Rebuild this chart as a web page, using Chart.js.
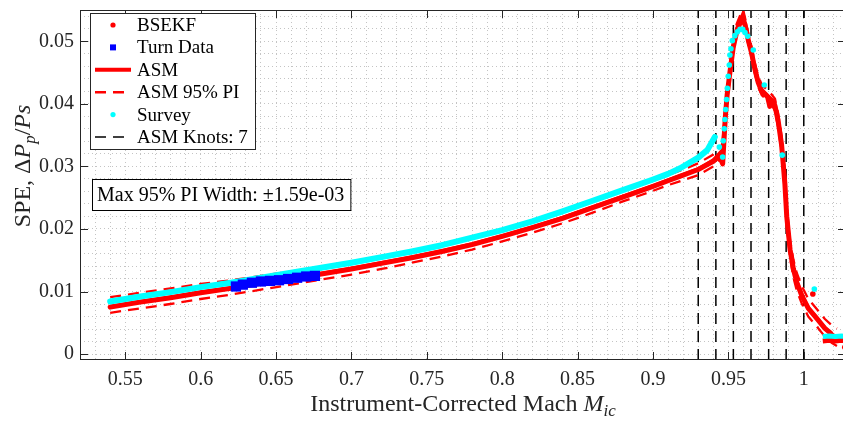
<!DOCTYPE html>
<html>
<head>
<meta charset="utf-8">
<script src="https://cdn.jsdelivr.net/npm/chart.js@4.4.1/dist/chart.umd.min.js"></script>
<style>
  html, body { margin: 0; padding: 0; background: #fff; overflow: hidden; }
  #wrap { position: absolute; left: 0; top: 0; width: 860px; height: 421px; }
</style>
</head>
<body>
<div id="wrap"><canvas id="chart" width="860" height="421"></canvas></div>
<script>
// ---- data ----
var xTickVals = [0.55, 0.6, 0.65, 0.7, 0.75, 0.8, 0.85, 0.9, 0.95, 1];
var xTickText = ['0.55', '0.6', '0.65', '0.7', '0.75', '0.8', '0.85', '0.9', '0.95', '1'];
var yTickVals = [0, 0.01, 0.02, 0.03, 0.04, 0.05];
var yTickText = ['0', '0.01', '0.02', '0.03', '0.04', '0.05'];

var legendLabels = ['BSEKF', 'Turn Data', 'ASM', 'ASM 95% PI', 'Survey', 'ASM Knots: 7'];
var piNote = 'Max 95% PI Width: \u00b11.59e-03';

var knots = [0.93, 0.9417, 0.9533, 0.965, 0.9767, 0.9883, 1.0];

var machAsm = [0.54, 0.56, 0.58, 0.60, 0.62, 0.64, 0.66, 0.68, 0.70, 0.72, 0.74, 0.76, 0.78, 0.80, 0.82, 0.84, 0.86, 0.88, 0.90, 0.91,
  0.92, 0.93, 0.94, 0.946, 0.9477, 0.9488, 0.951, 0.9532, 0.9555, 0.9577, 0.9597, 0.961, 0.9632, 0.9654, 0.9676, 0.9698, 0.9721, 0.9754, 0.9787, 0.9809,
  0.9831, 0.9853, 0.9864, 0.9875, 0.9887, 0.9909, 0.9931, 0.9953, 0.9986, 1.003, 1.0086, 1.014, 1.0185, 1.022];
var speAsm = [0.0076, 0.0084, 0.0091, 0.0099, 0.0106, 0.0114, 0.0122, 0.0129, 0.0137, 0.0146, 0.0155, 0.0165, 0.0176, 0.0189, 0.0203, 0.0218, 0.0235, 0.0252, 0.0269, 0.0278,
  0.0287, 0.0296, 0.0310, 0.0326, 0.0373, 0.0404, 0.0451, 0.0493, 0.0520, 0.0533, 0.0544, 0.0530, 0.0504, 0.0483, 0.0457, 0.0436, 0.0423, 0.0415, 0.0407, 0.0399,
  0.0373, 0.0336, 0.0305, 0.0273, 0.0221, 0.0168, 0.0137, 0.0116, 0.0095, 0.0074, 0.0058, 0.0042, 0.0032, 0.0027];
var speAsmHi = [0.0091, 0.0098, 0.0105, 0.0112, 0.0118, 0.0125, 0.0132, 0.0139, 0.0147, 0.0155, 0.0164, 0.0174, 0.0185, 0.0198, 0.0212, 0.0227, 0.0244, 0.0261, 0.0277, 0.0286,
  0.0295, 0.0305, 0.0319, 0.0335, 0.0381, 0.0412, 0.0459, 0.0501, 0.0528, 0.0541, 0.0551, 0.0538, 0.0512, 0.0491, 0.0465, 0.0444, 0.0431, 0.0423, 0.0415, 0.0408,
  0.0384, 0.0348, 0.0318, 0.0287, 0.0235, 0.0182, 0.0151, 0.0130, 0.0109, 0.0088, 0.0072, 0.0056, 0.0046, 0.0041];
var speAsmLo = [0.0066, 0.0073, 0.0080, 0.0088, 0.0095, 0.0103, 0.0111, 0.0119, 0.0127, 0.0136, 0.0146, 0.0156, 0.0167, 0.0180, 0.0194, 0.0209, 0.0226, 0.0244, 0.0261, 0.0270,
  0.0278, 0.0286, 0.0300, 0.0316, 0.0364, 0.0395, 0.0442, 0.0484, 0.0511, 0.0524, 0.0535, 0.0521, 0.0495, 0.0474, 0.0448, 0.0427, 0.0414, 0.0406, 0.0398, 0.0389,
  0.0361, 0.0323, 0.0291, 0.0258, 0.0206, 0.0154, 0.0123, 0.0102, 0.0081, 0.0060, 0.0044, 0.0028, 0.0018, 0.0013];

var machBsekf = [0.54, 0.56, 0.58, 0.60, 0.62, 0.64, 0.66, 0.68, 0.70, 0.72, 0.74, 0.76, 0.78, 0.80, 0.82, 0.84, 0.86, 0.88, 0.90, 0.91,
  0.92, 0.93, 0.94, 0.944, 0.9462, 0.9470, 0.9480, 0.9492, 0.951, 0.9532, 0.9555, 0.9577, 0.9595, 0.9610, 0.9632, 0.9654, 0.9676, 0.9698, 0.9721, 0.9740,
  0.9760, 0.9775, 0.9790, 0.9809, 0.9831, 0.9853, 0.9864, 0.9875, 0.9887, 0.9909, 0.9931, 0.9953, 0.9986, 1.003, 1.0086, 1.014, 1.018];
var speBsekf = [0.0075, 0.0083, 0.0090, 0.0098, 0.0105, 0.0113, 0.0121, 0.0128, 0.0136, 0.0145, 0.0154, 0.0164, 0.0175, 0.0188, 0.0202, 0.0217, 0.0234, 0.0251, 0.0268, 0.0277,
  0.0286, 0.0295, 0.0308, 0.0317, 0.0304, 0.0338, 0.0380, 0.0415, 0.0450, 0.0490, 0.0515, 0.0529, 0.0533, 0.0527, 0.0502, 0.0481, 0.0455, 0.0434, 0.0420, 0.0416,
  0.0411, 0.0396, 0.0405, 0.0397, 0.0371, 0.0334, 0.0303, 0.0271, 0.0220, 0.0167, 0.0136, 0.0115, 0.0094, 0.0073, 0.0057, 0.0041, 0.0033];
var machBsekfTail = [1.0126, 1.017, 1.021, 1.025, 1.028];
var speBsekfTail = [0.0021, 0.0022, 0.0021, 0.0022, 0.0021];
var machBsekfOut = [1.006, 1.0272];
var speBsekfOut = [0.0096, 0.0011];

var machSurvey = [0.54, 0.56, 0.58, 0.60, 0.62, 0.64, 0.66, 0.68, 0.70, 0.72, 0.74, 0.76, 0.78, 0.80, 0.82, 0.84, 0.86, 0.88, 0.90, 0.91,
  0.918, 0.93, 0.936, 0.941];
var speSurvey = [0.0084, 0.0092, 0.0099, 0.0107, 0.0114, 0.0122, 0.0130, 0.0138, 0.0146, 0.0155, 0.0164, 0.0174, 0.0186, 0.0198, 0.0212, 0.0228, 0.0245, 0.0262, 0.0279, 0.0288,
  0.0297, 0.0314, 0.0326, 0.0347];
var machSurveyDots = [0.944, 0.9462, 0.9466, 0.9473, 0.9477, 0.9482, 0.9488, 0.9493, 0.9499, 0.9506, 0.951, 0.9517, 0.9526, 0.9543, 0.9559, 0.9577, 0.9595, 0.961, 0.9628, 0.9665,
  0.9738, 0.9857, 1.007];
var speSurveyDots = [0.0331, 0.0315, 0.0341, 0.0360, 0.0375, 0.0391, 0.0407, 0.0425, 0.0444, 0.0462, 0.0478, 0.0488, 0.0501, 0.0509, 0.0515, 0.0519, 0.0519, 0.0514, 0.0508, 0.0486,
  0.0430, 0.0318, 0.0104];
var machSurveyTail = [1.0126, 1.017, 1.021, 1.025, 1.028];
var speSurveyTail = [0.0028, 0.0029, 0.0028, 0.0029, 0.0028];

var machTurn = [0.6234, 0.628, 0.634, 0.640, 0.646, 0.652, 0.658, 0.664, 0.670, 0.6758];
var speTurn = [0.0108, 0.0111, 0.0114, 0.0116, 0.0117, 0.0118, 0.0120, 0.0122, 0.0124, 0.0125];

var xMin = 0.52, xMax = 1.028, yMin = -0.00095, yMax = 0.055;

// ---- helpers ----
var serif = '"Liberation Serif", "Times New Roman", serif';
var axisInk = '#262626';

function pts(xs, ys) {
  return xs.map(function (x, i) { return { x: x, y: ys[i] }; });
}

function knotPts() {
  var out = [];
  knots.forEach(function (k) {
    out.push({ x: k, y: yMin }, { x: k, y: yMax }, { x: k, y: null });
  });
  return out;
}

function pickLabel(v, vals, texts) {
  for (var i = 0; i < vals.length; i++) {
    if (Math.abs(v - vals[i]) < 1e-7) return texts[i];
  }
  return '';
}

function rich(ctx, parts, x, y, center) {
  var w = 0;
  parts.forEach(function (p) { ctx.font = p.font; w += ctx.measureText(p.t).width; });
  var cx = center ? x - w / 2 : x;
  parts.forEach(function (p) {
    ctx.font = p.font;
    ctx.fillText(p.t, cx, y + (p.dy || 0));
    cx += ctx.measureText(p.t).width;
  });
}

var overlay = {
  id: 'overlay',
  afterDatasetsDraw: function (chart) {
    var ctx = chart.ctx, a = chart.chartArea;
    var xs = chart.scales.x, ys = chart.scales.y;
    ctx.save();

    // frame + inward ticks
    ctx.strokeStyle = axisInk;
    ctx.lineWidth = 1;
    ctx.beginPath();
    xTickVals.forEach(function (v) {
      var p = Math.round(xs.getPixelForValue(v)) + 0.5;
      ctx.moveTo(p, a.bottom); ctx.lineTo(p, a.bottom - 8);
      ctx.moveTo(p, a.top); ctx.lineTo(p, a.top + 8);
    });
    yTickVals.forEach(function (v) {
      var p = Math.round(ys.getPixelForValue(v)) + 0.5;
      ctx.moveTo(a.left, p); ctx.lineTo(a.left + 8, p);
      ctx.moveTo(a.right, p); ctx.lineTo(a.right - 8, p);
    });
    ctx.stroke();
    ctx.strokeRect(Math.round(a.left) + 0.5, Math.round(a.top) + 0.5,
      Math.round(a.right - a.left) - 1, Math.round(a.bottom - a.top) - 1);

    // axis titles
    ctx.fillStyle = axisInk;
    ctx.textBaseline = 'alphabetic';
    var f = '24px ' + serif, fi = 'italic 24px ' + serif, fs = 'italic 17px ' + serif;
    rich(ctx, [
      { t: 'Instrument-Corrected Mach ', font: f },
      { t: 'M', font: fi },
      { t: 'ic', font: fs, dy: 5 }
    ], (a.left + a.right) / 2, 411, true);

    ctx.save();
    ctx.translate(30, 166);
    ctx.rotate(-Math.PI / 2);
    rich(ctx, [
      { t: 'SPE, \u0394', font: f },
      { t: 'P', font: fi },
      { t: 'p', font: fs, dy: 5 },
      { t: '/', font: f },
      { t: 'Ps', font: fi }
    ], 0, 0, true);
    ctx.restore();

    // legend
    var lx = 90, ly = 13, lw = 165, lh = 136;
    ctx.fillStyle = '#fff';
    ctx.fillRect(lx, ly, lw, lh);
    ctx.strokeStyle = axisInk;
    ctx.strokeRect(lx + 0.5, ly + 0.5, lw, lh);
    ctx.font = '19px ' + serif;
    ctx.textBaseline = 'middle';
    legendLabels.forEach(function (label, i) {
      var cy = 25 + i * 22.4;
      var x0 = 95, x1 = 131, xc = 113;
      ctx.setLineDash([]);
      if (i === 0 || i === 4) {
        ctx.fillStyle = i === 0 ? '#ff0000' : '#00ffff';
        ctx.beginPath(); ctx.arc(xc, cy, 2.6, 0, Math.PI * 2); ctx.fill();
      } else if (i === 1) {
        ctx.fillStyle = '#0000ff';
        ctx.fillRect(xc - 3, cy - 3, 6, 6);
      } else {
        ctx.strokeStyle = i === 5 ? '#000' : '#ff0000';
        ctx.lineWidth = i === 2 ? 4 : (i === 3 ? 2.5 : 1.5);
        if (i !== 2) ctx.setLineDash([11, 7]);
        ctx.beginPath(); ctx.moveTo(x0, cy); ctx.lineTo(x1, cy); ctx.stroke();
      }
      ctx.setLineDash([]);
      ctx.fillStyle = '#000';
      ctx.fillText(label, 137, cy + 1);
    });

    // PI width note, box fitted to its text
    ctx.font = '20px ' + serif;
    var tw = ctx.measureText(piNote).width;
    ctx.fillStyle = '#fff';
    ctx.fillRect(92, 179, tw + 11, 31);
    ctx.strokeStyle = '#000';
    ctx.lineWidth = 1;
    ctx.strokeRect(92.5, 179.5, tw + 11, 31);
    ctx.fillStyle = '#000';
    ctx.fillText(piNote, 97, 196);

    ctx.restore();
  }
};

new Chart(document.getElementById('chart'), {
  type: 'line',
  data: {
    datasets: [
      { data: pts(machTurn, speTurn), borderColor: '#0000ff', backgroundColor: '#0000ff', borderWidth: 6,
        pointStyle: 'rect', pointRadius: 3, borderCapStyle: 'butt', order: 1 },
      { data: pts(machSurvey, speSurvey), borderColor: '#00ffff', borderWidth: 6, pointRadius: 0,
        borderCapStyle: 'round', borderJoinStyle: 'round', order: 2 },
      { data: pts(machSurveyDots, speSurveyDots), showLine: false, backgroundColor: '#00ffff', borderWidth: 0,
        pointRadius: 2.8, order: 2 },
      { data: pts(machSurveyTail, speSurveyTail), borderColor: '#00ffff', borderWidth: 5, pointRadius: 0, order: 2 },
      { data: pts(machAsm, speAsmHi), borderColor: '#ff0000', borderWidth: 2.3, borderDash: [11, 7], pointRadius: 0, order: 3 },
      { data: pts(machAsm, speAsmLo), borderColor: '#ff0000', borderWidth: 2.3, borderDash: [11, 7], pointRadius: 0, order: 3 },
      { data: pts(machAsm, speAsm), borderColor: '#ff0000', borderWidth: 3.5, pointRadius: 0, order: 4 },
      { data: pts(machBsekf, speBsekf), borderColor: '#ff0000', borderWidth: 5, pointRadius: 0,
        borderCapStyle: 'round', borderJoinStyle: 'round', order: 5 },
      { data: pts(machBsekfTail, speBsekfTail), borderColor: '#ff0000', borderWidth: 5, pointRadius: 0, order: 5 },
      { data: pts(machBsekfOut, speBsekfOut), showLine: false, backgroundColor: '#ff0000', borderWidth: 0,
        pointRadius: 2.8, order: 5 },
      { data: knotPts(), borderColor: '#000', borderWidth: 1.5, borderDash: [11, 7], pointRadius: 0,
        spanGaps: false, order: 6 }
    ]
  },
  options: {
    responsive: false,
    animation: false,
    events: [],
    layout: { padding: { top: 4, right: 14, left: 0, bottom: 0 } },
    scales: {
      x: {
        type: 'linear', min: xMin, max: xMax,
        grid: { color: '#c4c4c4', lineWidth: 1, drawTicks: false },
        border: { display: false, dash: [1, 3] },
        ticks: {
          stepSize: 0.01, includeBounds: false, autoSkip: false, maxRotation: 0, minRotation: 0,
          padding: 8, color: axisInk, font: { family: serif, size: 20 },
          callback: function (v) { return pickLabel(v, xTickVals, xTickText); }
        },
        afterFit: function (s) { s.height = 61; s.paddingLeft = 0; s.paddingRight = 0; }
      },
      y: {
        type: 'linear', min: yMin, max: yMax,
        grid: { color: '#c4c4c4', lineWidth: 1, drawTicks: false },
        border: { display: false, dash: [1, 3] },
        ticks: {
          stepSize: 0.002, includeBounds: false, autoSkip: false,
          padding: 6, color: axisInk, font: { family: serif, size: 20 },
          callback: function (v) { return pickLabel(v, yTickVals, yTickText); }
        },
        afterFit: function (s) { s.width = 80; s.paddingTop = 0; s.paddingBottom = 0; }
      }
    },
    plugins: { legend: { display: false }, tooltip: { enabled: false } }
  },
  plugins: [overlay]
});
</script>
</body>
</html>
